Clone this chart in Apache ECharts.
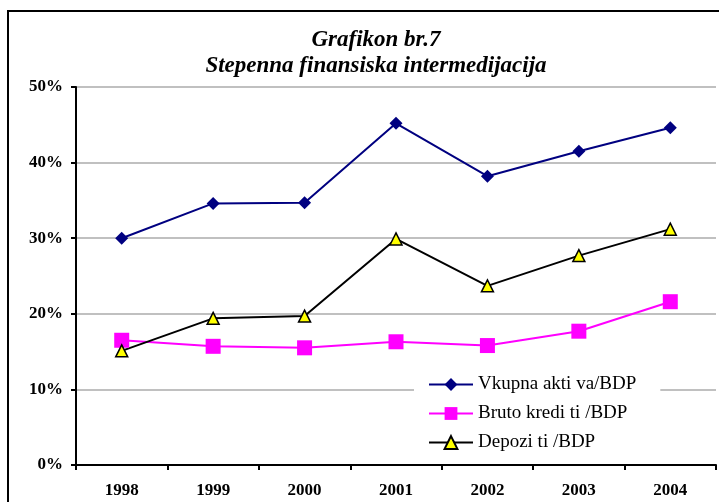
<!DOCTYPE html>
<html>
<head>
<meta charset="utf-8">
<script src="https://cdn.jsdelivr.net/npm/echarts@6/dist/echarts.min.js"></script>
<style>
  html, body { margin: 0; padding: 0; background: #fff; }
  #chart { width: 719px; height: 502px; }
</style>
</head>
<body>
<div id="chart"></div>
<script>
// godine
var years = ['1998', '1999', '2000', '2001', '2002', '2003', '2004'];

// vrijednosti u %
var vkupnaAktiva = [30.0, 34.6, 34.7, 45.2, 38.2, 41.5, 44.6];
var brutoKrediti = [16.5, 15.7, 15.5, 16.3, 15.8, 17.7, 21.6];
var depoziti = [15.1, 19.4, 19.7, 29.9, 23.7, 27.7, 31.2];

var seriesNames = ['Vkupna akti va/BDP', 'Bruto kredi ti /BDP', 'Depozi ti /BDP'];

var chart = echarts.init(document.getElementById('chart'));

var serif = '"Liberation Serif", "DejaVu Serif", serif';

var option = {
    backgroundColor: '#fff',
    animation: false,
    title: {
        text: 'Grafikon br.7\nStepenna finansiska intermedijacija',
        left: 371,
        textAlign: 'center',
        top: 22,
        textStyle: {
            fontFamily: serif,
            fontStyle: 'italic',
            fontWeight: 'bold',
            fontSize: 23,
            lineHeight: 26,
            color: '#000'
        }
    },
    graphic: [{
        type: 'rect',
        shape: { x: 8, y: 11, width: 760, height: 560 },
        style: { fill: 'none', stroke: '#000', lineWidth: 2 },
        silent: true
    }],
    legend: {
        orient: 'vertical',
        left: 414,
        top: 372,
        itemWidth: 44,
        itemHeight: 16,
        itemGap: 10,
        padding: [3, 24, 3, 14],
        backgroundColor: '#fff',
        textStyle: {
            fontFamily: serif,
            fontSize: 19,
            color: '#000'
        },
        data: seriesNames
    },
    grid: {
        left: 76,
        right: 3,
        top: 87,
        bottom: 37
    },
    xAxis: {
        type: 'category',
        data: years,
        boundaryGap: true,
        axisLine: { lineStyle: { color: '#000', width: 2 } },
        axisTick: { show: true, length: 5, lineStyle: { color: '#000', width: 2 } },
        axisLabel: {
            fontFamily: serif,
            fontWeight: 'bold',
            fontSize: 17,
            color: '#000',
            margin: 17
        }
    },
    yAxis: {
        type: 'value',
        min: 0,
        max: 50,
        interval: 10,
        axisLine: { show: true, lineStyle: { color: '#000', width: 2 } },
        axisTick: { show: true, length: 5, lineStyle: { color: '#000', width: 2 } },
        axisLabel: {
            formatter: '{value}%',
            fontFamily: serif,
            fontWeight: 'bold',
            fontSize: 17,
            color: '#000',
            margin: 13
        },
        splitLine: { lineStyle: { color: '#c0c0c0', width: 2 } }
    },
    series: [{
        name: seriesNames[0],
        type: 'line',
        data: vkupnaAktiva,
        symbol: 'diamond',
        symbolSize: 13,
        itemStyle: { color: '#000080' },
        lineStyle: { color: '#000080', width: 2 }
    }, {
        name: seriesNames[1],
        type: 'line',
        data: brutoKrediti,
        symbol: 'rect',
        symbolSize: 15,
        itemStyle: { color: '#ff00ff' },
        lineStyle: { color: '#ff00ff', width: 2 }
    }, {
        name: seriesNames[2],
        type: 'line',
        data: depoziti,
        symbol: 'triangle',
        symbolSize: 12,
        itemStyle: { color: '#ffff00', borderColor: '#000', borderWidth: 1.5 },
        lineStyle: { color: '#000', width: 2 }
    }]
};

chart.setOption(option);
</script>
</body>
</html>
